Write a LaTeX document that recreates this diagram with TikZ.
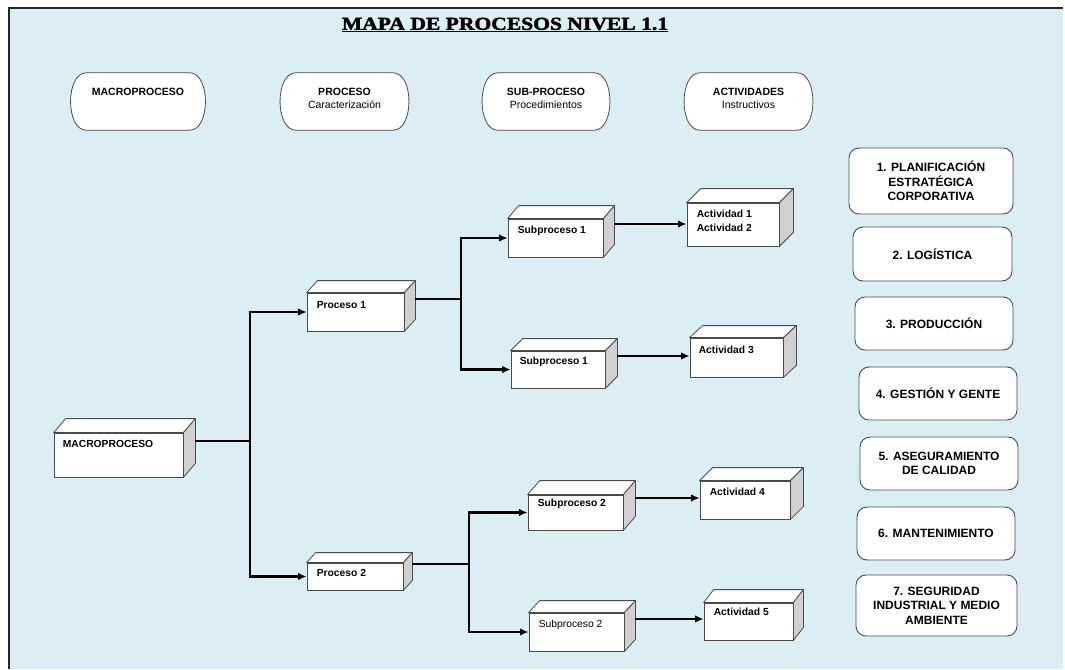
\documentclass[tikz,border=0pt]{standalone}
\usepackage{fontspec}
\usepackage{graphicx}
\setmainfont{Liberation Sans}
\newfontfamily\titlefont{Liberation Serif}[BoldFeatures={FakeBold=2}]
\usetikzlibrary{calc,arrows.meta}
\definecolor{bgblue}{HTML}{DBEEF4}
\definecolor{sidegray}{HTML}{D0D0D0}
\definecolor{edge}{HTML}{4A4A4A}
\newcommand\cubefaces[3]{%
  \filldraw[draw=edge, fill=white, line width=0.8pt, line join=round]
    (#1.north west) -- ($(#1.north west)+(#2,#3)$) -- ($(#1.north east)+(#2,#3)$) -- (#1.north east) -- cycle;
  \filldraw[draw=edge, fill=sidegray, line width=0.8pt, line join=round]
    (#1.north east) -- ($(#1.north east)+(#2,#3)$) -- ($(#1.south east)+(#2,#3)$) -- (#1.south east) -- cycle;}
\newcommand\capsuleoutline[1]{%
  \filldraw[draw=edge, fill=white, line width=0.8pt]
    ($(#1.north west)+(16,0)$) -- ($(#1.north east)+(-16,0)$)
    .. controls ($(#1.north east)+(5,0)$) and ($(#1.south east)+(5,0)$) .. ($(#1.south east)+(-16,0)$)
    -- ($(#1.south west)+(16,0)$)
    .. controls ($(#1.south west)+(-5,0)$) and ($(#1.north west)+(-5,0)$) .. cycle;}
\begin{document}
\begin{tikzpicture}[x=1pt,y=-1pt,
  cube/.style={draw=edge, fill=white, line width=0.8pt, inner sep=0pt},
  cubetext/.style={anchor=west, inner sep=0pt, font=\fontsize{10.3}{14}\selectfont\bfseries, align=left},
  conn/.style={line width=2.8pt, black},
  arr/.style={conn, -{Latex[length=8.5pt,width=7.5pt]}},
  capsule/.style={inner sep=0pt, minimum height=57pt},
  htext/.style={inner sep=0pt, align=center, font=\fontsize{10.5}{13}\selectfont},
  rbox/.style={draw=edge, fill=white, line width=0.9pt, rounded corners=10pt, inner sep=0pt, align=center, font=\bfseries\fontsize{12}{14.5}\selectfont},
]
\useasboundingbox (0,0) rectangle (1065,669);
\fill[white] (0,0) rectangle (1065,669);
\fill[bgblue] (8,7) rectangle (1063,669);
\draw[line width=2pt, black!85] (9,669) -- (9,8) -- (1063,8);

% title
\node (title) at (505,25) {\scalebox{1.3}[1.1]{\titlefont\bfseries\fontsize{16.6}{20}\selectfont\underline{MAPA DE PROCESOS NIVEL 1.1}}};

% header capsules
\node[capsule, minimum width=135pt] (hM) at (138,101.5) {};
\node[capsule, minimum width=129pt] (hP) at (344.5,101.5) {};
\node[capsule, minimum width=128pt] (hS) at (546,101.5) {};
\node[capsule, minimum width=129pt] (hA) at (748.5,101.5) {};
\capsuleoutline{hM}
\capsuleoutline{hP}
\capsuleoutline{hS}
\capsuleoutline{hA}
\node[htext] (hMt) at (138,92) {\textbf{MACROPROCESO}};
\node[htext] (hPt) at (344.5,98.5) {\textbf{PROCESO}\\Caracterización};
\node[htext] (hSt) at (546,98.5) {\textbf{SUB-PROCESO}\\Procedimientos};
\node[htext] (hAt) at (748.5,98.5) {\textbf{ACTIVIDADES}\\Instructivos};

% connector points
\coordinate (Mout) at (195,441);
\coordinate (jm) at (250,441);
\coordinate (P1out) at (415,299);
\coordinate (j1) at (461,299);
\coordinate (P2out) at (412,564);
\coordinate (j2) at (469,564);
\coordinate (S1out) at (614,224);
\coordinate (S1bout) at (617,356);
\coordinate (S2out) at (635,498);
\coordinate (S2bout) at (635,619);

% cubes (front faces)
\node[cube, minimum width=129pt, minimum height=44pt] (M) at (118.5,455) {};
\node[cube, minimum width=97pt, minimum height=38pt] (P1) at (355.5,312) {};
\node[cube, minimum width=96pt, minimum height=27pt] (P2) at (355,576.5) {};
\node[cube, minimum width=95pt, minimum height=38pt] (S1) at (555.5,238) {};
\node[cube, minimum width=94pt, minimum height=37pt] (S1b) at (558,369.5) {};
\node[cube, minimum width=92pt, minimum height=43pt] (A12) at (733,224.5) {};
\node[cube, minimum width=93pt, minimum height=39pt] (A3) at (736.5,357.5) {};
\node[cube, minimum width=95pt, minimum height=35pt] (S2) at (575.5,512.5) {};
\node[cube, minimum width=90pt, minimum height=38pt] (A4) at (745,500) {};
\node[cube, minimum width=95pt, minimum height=38pt] (S2b) at (576.5,632) {};
\node[cube, minimum width=89pt, minimum height=37pt] (A5) at (748.5,621.5) {};

\cubefaces{M}{12}{-14}
\cubefaces{P1}{11}{-12}
\cubefaces{P2}{9}{-10}
\cubefaces{S1}{11}{-13}
\cubefaces{S1b}{12}{-12}
\cubefaces{A12}{14}{-14}
\cubefaces{A3}{13}{-12}
\cubefaces{S2}{12}{-14}
\cubefaces{A4}{13}{-13}
\cubefaces{S2b}{11}{-12}
\cubefaces{A5}{10}{-13}

% cube texts
\node[cubetext] (Mt) at ($(M.north west)+(9,11)$) {MACROPROCESO};
\node[cubetext] (P1t) at ($(P1.north west)+(10,12)$) {Proceso 1};
\node[cubetext] (P2t) at ($(P2.north west)+(10,10)$) {Proceso 2};
\node[cubetext] (S1t) at ($(S1.north west)+(10,12)$) {Subproceso 1};
\node[cubetext] (S1bt) at ($(S1b.north west)+(9,11)$) {Subproceso 1};
\node[cubetext] (A12t) at ($(A12.north west)+(10,18)$) {Actividad 1\\Actividad 2};
\node[cubetext] (A3t) at ($(A3.north west)+(9,12)$) {Actividad 3};
\node[cubetext] (S2t) at ($(S2.north west)+(10,9)$) {Subproceso 2};
\node[cubetext] (A4t) at ($(A4.north west)+(10,11)$) {Actividad 4};
\node[cubetext, font=\fontsize{10.3}{12}\selectfont] (S2bt) at ($(S2b.north west)+(10,12)$) {Subproceso 2};
\node[cubetext] (A5t) at ($(A5.north west)+(10,9)$) {Actividad 5};

% lines
\draw[conn] (Mout) -- (jm);
\draw[arr] (jm) |- (P1.west);
\draw[arr] (jm) |- (P2.west);
\draw[conn] (P1out) -- (j1);
\draw[arr] (j1) |- (S1.west);
\draw[arr] (j1) |- (S1b.west);
\draw[conn] (P2out) -- (j2);
\draw[arr] (j2) |- (S2.west);
\draw[arr] (j2) |- (S2b.west);
\draw[arr] (S1out) -- (S1out -| A12.west);
\draw[arr] (S1bout) -- (S1bout -| A3.west);
\draw[arr] (S2out) -- (S2out -| A4.west);
\draw[arr] (S2bout) -- (S2bout -| A5.west);

% right boxes
\node[rbox, minimum width=164pt, minimum height=66pt] (R1) at (931,181) {1. PLANIFICACIÓN\\ESTRATÉGICA\\CORPORATIVA};
\node[rbox, minimum width=159pt, minimum height=54pt] (R2) at (932.5,254) {2. LOGÍSTICA};
\node[rbox, minimum width=158pt, minimum height=53pt] (R3) at (934,323.5) {3. PRODUCCIÓN};
\node[rbox, minimum width=158pt, minimum height=53pt] (R4) at (938,393.5) {4. GESTIÓN Y GENTE};
\node[rbox, minimum width=158pt, minimum height=53pt] (R5) at (939,463.5) {5. ASEGURAMIENTO\\DE CALIDAD};
\node[rbox, minimum width=158pt, minimum height=53pt] (R6) at (936,533.5) {6. MANTENIMIENTO};
\node[rbox, minimum width=161pt, minimum height=61pt] (R7) at (936.5,605.5) {7. SEGURIDAD\\INDUSTRIAL Y MEDIO\\AMBIENTE};
\end{tikzpicture}
\end{document}
